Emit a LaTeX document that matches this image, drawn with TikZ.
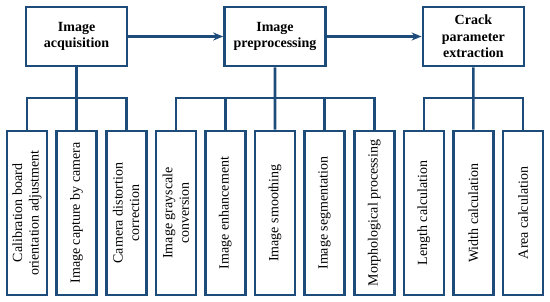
\documentclass[tikz,border=0pt]{standalone}
\usepackage{fontspec}
\setmainfont{Liberation Serif}
\usepackage{tikz}
\usetikzlibrary{positioning,arrows.meta,calc}
\definecolor{flowblue}{RGB}{30,76,122}

\begin{document}
\begin{tikzpicture}[x=1pt, y=-1pt, >={Stealth[length=10pt,width=8pt]},
    stagebox/.style={draw=flowblue, line width=2.6pt, minimum width=101pt,
        minimum height=59pt, align=center, inner sep=2pt,
        font=\fontsize{14}{16.5}\selectfont\bfseries},
    taskbox/.style={draw=flowblue, line width=2.6pt, rotate=90,
        minimum width=164pt, minimum height=40pt, align=center, inner sep=1pt,
        font=\fontsize{14}{16.5}\selectfont},
    link/.style={draw=flowblue, line width=2.6pt}]
\useasboundingbox (0,0) rectangle (550,302);
% top row
\node[stagebox] (acq) at (76.6,36.5) {Image\\acquisition};
\node[stagebox] (pre) at (275,36.5) {Image\\preprocessing};
\node[stagebox] (ext) at (473.4,36.5) {Crack\\parameter\\extraction};
\draw[link, ->] (acq) -- (pre);
\draw[link, ->] (pre) -- (ext);
% task boxes
\foreach \i/\txt in {1/{Calibration board\\orientation adjustment},
    2/{Image capture by camera}, 3/{Camera distortion\\correction},
    4/{Image grayscale\\conversion}, 5/{Image enhancement},
    6/{Image smoothing}, 7/{Image segmentation},
    8/{Morphological processing}, 9/{Length calculation},
    10/{Width calculation}, 11/{Area calculation}}
  \node[taskbox] (t\i) at ({27+49.6*(\i-1)},213) {\txt};
\coordinate (bar) at (0,98);
% tree links
\draw[link] (acq) -- (t2);
\draw[link] (t1.east) -- (t1.east |- bar) -- (t3.east |- bar) -- (t3.east);
\draw[link] (pre) -- (t6);
\draw[link] (t4.east) -- (t4.east |- bar) -- (t8.east |- bar) -- (t8.east);
\foreach \i in {5,7}
  \draw[link] (t\i.east) -- (t\i.east |- bar);
\draw[link] (ext) -- (t10);
\draw[link] (t9.east) -- (t9.east |- bar) -- (t11.east |- bar) -- (t11.east);
\end{tikzpicture}
\end{document}
